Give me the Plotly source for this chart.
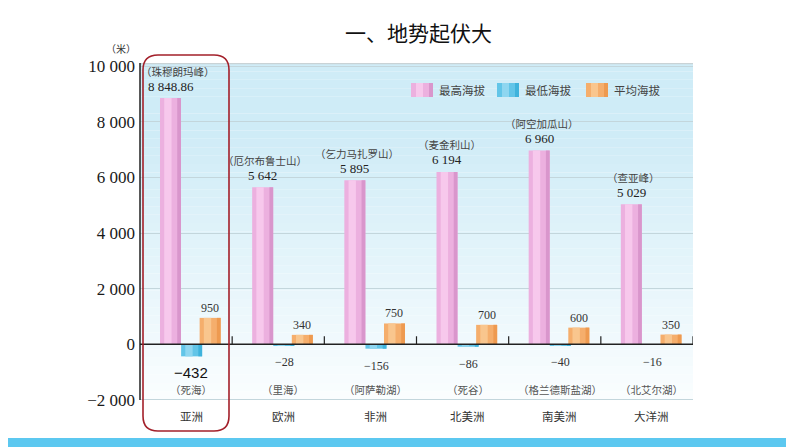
import plotly.graph_objects as go

# ---------------- data ----------------
continents = ["亚洲", "欧洲", "非洲", "北美洲", "南美洲", "大洋洲"]
highest = [8848.86, 5642, 5895, 6194, 6960, 5029]
lowest = [-432, -28, -156, -86, -40, -16]
average = [950, 340, 750, 700, 600, 350]
peak_names = ["珠穆朗玛峰", "厄尔布鲁士山", "乞力马扎罗山", "麦金利山", "阿空加瓜山", "查亚峰"]
low_names = ["死海", "里海", "阿萨勒湖", "死谷", "格兰德斯盐湖", "北艾尔湖"]
y_ticks = [-2000, 0, 2000, 4000, 6000, 8000, 10000]
y_tick_text = ["−2 000", "0", "2 000", "4 000", "6 000", "8 000", "10 000"]
series_names = ["最高海拔", "最低海拔", "平均海拔"]

# ---------------- geometry helpers (styling only) ----------------
OX, OY = 8, 8            # default page body margin
W, H = 794 - OX, 447 - OY
L, T = 140 - OX, 63 - OY
R = W - (693 - OX)
B = H - (431 - OY)
PW, PH = W - L - R, H - T - B
Y_TOP, Y_BOT = 10108, -3114
BAR_W = 0.228
OFF = [-0.283, -0.054, 0.147]

PINK, BLUE, ORANGE = "#ecb0df", "#62c5e8", "#f5ae6c"
PINK_HI, BLUE_HI, ORANGE_HI = "#f7c8ec", "#8ed6f0", "#f9c68e"
PINK_LO, BLUE_LO, ORANGE_LO = "#d996cc", "#3fb3dc", "#ee9a50"
SERIF = "Liberation Serif, Noto Sans CJK SC"
CJK = "Noto Sans CJK SC"
TXT = "#333333"


def px_x(p):
    return (p - OX - L) / PW


def px_y(p):
    return (H - B - (p - OY)) / PH


def fmt(v):
    neg = v < 0
    v = abs(v)
    if float(v).is_integer():
        s = f"{int(v):,}".replace(",", " ")
    else:
        ip, dp = f"{v:.2f}".split(".")
        s = f"{int(ip):,}".replace(",", " ") + "." + dp
    return ("−" if neg else "") + s


fig = go.Figure()

for vals, name, col, hi, lo, off in [
    (highest, series_names[0], PINK, PINK_HI, PINK_LO, OFF[0]),
    (lowest, series_names[1], BLUE, BLUE_HI, BLUE_LO, OFF[1]),
    (average, series_names[2], ORANGE, ORANGE_HI, ORANGE_LO, OFF[2]),
]:
    fig.add_trace(go.Bar(x=continents, y=vals, name=name, width=BAR_W, offset=off,
                         marker=dict(color=col, line=dict(width=0)), showlegend=False))
    # shading stripes to suggest the cylindrical look
    fig.add_trace(go.Bar(x=continents, y=vals, name=name, width=BAR_W * 0.35,
                         offset=off + BAR_W * 0.2,
                         marker=dict(color=hi, line=dict(width=0)), showlegend=False,
                         hoverinfo="skip"))
    fig.add_trace(go.Bar(x=continents, y=vals, name=name, width=BAR_W * 0.18,
                         offset=off + BAR_W * 0.82,
                         marker=dict(color=lo, line=dict(width=0)), showlegend=False,
                         hoverinfo="skip"))

shapes = []
# background gradient of the panel
n = 40
top_c = (0xcf, 0xec, 0xf7)
bot_c = (0xfb, 0xfe, 0xff)
for i in range(n):
    y0 = -2000 + (Y_TOP + 2000) * i / n
    y1 = -2000 + (Y_TOP + 2000) * (i + 1) / n
    t = (i + 0.5) / n
    c = tuple(int(bot_c[k] + (top_c[k] - bot_c[k]) * min(1, t * 1.25)) for k in range(3))
    shapes.append(dict(type="rect", xref="paper", yref="y", x0=0, x1=1, y0=y0, y1=y1,
                       fillcolor="rgb(%d,%d,%d)" % c, line=dict(width=0), layer="below"))
# top border
shapes.append(dict(type="line", xref="paper", yref="y", x0=0, x1=1, y0=Y_TOP - 20, y1=Y_TOP - 20,
                   line=dict(color="#c9d3d6", width=1.5)))
# left axis line
shapes.append(dict(type="line", xref="paper", yref="y", x0=0, x1=0, y0=-2000, y1=Y_TOP,
                   line=dict(color="#222222", width=1.5)))
# zero line and ticks
shapes.append(dict(type="line", xref="paper", yref="y", x0=0, x1=1, y0=0, y1=0,
                   line=dict(color="#222222", width=1.5)))
for i in range(len(continents)):
    shapes.append(dict(type="line", xref="x", yref="y", x0=i + 0.5, x1=i + 0.5, y0=0, y1=290,
                       line=dict(color="#222222", width=1.2)))
# bottom blue strip
shapes.append(dict(type="rect", xref="paper", yref="paper", x0=px_x(0), x1=px_x(800),
                   y0=px_y(450), y1=px_y(438), fillcolor="#5cc8f0", line=dict(width=0)))
# red rounded rectangle around Asia
x0, x1, y0, y1, r = 143, 229, 55, 431, 15
rx, ry = r / PW, r / PH
X0, X1, Y0, Y1 = px_x(x0), px_x(x1), px_y(y1), px_y(y0)
path = (f"M {X0+rx},{Y1} L {X1-rx},{Y1} Q {X1},{Y1} {X1},{Y1-ry} "
        f"L {X1},{Y0+ry} Q {X1},{Y0} {X1-rx},{Y0} L {X0+rx},{Y0} "
        f"Q {X0},{Y0} {X0},{Y0+ry} L {X0},{Y1-ry} Q {X0},{Y1} {X0+rx},{Y1} Z")
shapes.append(dict(type="path", xref="paper", yref="paper", path=path,
                   line=dict(color="#a3202a", width=1.6)))
# legend swatches
for sx, col, hi, lo in [(411, PINK, PINK_HI, PINK_LO), (497, BLUE, BLUE_HI, BLUE_LO),
                        (586, ORANGE, ORANGE_HI, ORANGE_LO)]:
    shapes.append(dict(type="rect", xref="paper", yref="paper", x0=px_x(sx), x1=px_x(sx + 22),
                       y0=px_y(97), y1=px_y(83), fillcolor=col, line=dict(width=0)))
    shapes.append(dict(type="rect", xref="paper", yref="paper", x0=px_x(sx + 5), x1=px_x(sx + 12),
                       y0=px_y(97), y1=px_y(83), fillcolor=hi, line=dict(width=0)))
    shapes.append(dict(type="rect", xref="paper", yref="paper", x0=px_x(sx + 18), x1=px_x(sx + 22),
                       y0=px_y(97), y1=px_y(83), fillcolor=lo, line=dict(width=0)))

ann = []
# title and unit
ann.append(dict(text="一、地势起伏大", xref="paper", yref="paper", x=px_x(418), y=px_y(32),
                showarrow=False, font=dict(family=CJK, size=21, color="#111111"),
                xanchor="center", yanchor="middle"))
ann.append(dict(text="（米）", xref="paper", yref="paper", x=px_x(121), y=px_y(48),
                showarrow=False, font=dict(family=CJK, size=10, color=TXT),
                xanchor="center", yanchor="middle"))
# legend labels
for sx, name in zip([437, 523, 612], series_names):
    ann.append(dict(text=name, xref="paper", yref="paper", x=px_x(sx), y=px_y(90),
                    showarrow=False, font=dict(family=CJK, size=11.5, color="#444444"),
                    xanchor="left", yanchor="middle"))

for i, c in enumerate(continents):
    # highest
    ann.append(dict(text=fmt(highest[i]), x=c, y=highest[i], xshift=-15.5, yshift=12,
                    showarrow=False, font=dict(family=SERIF, size=13, color="#222222"),
                    xanchor="center", yanchor="middle"))
    ann.append(dict(text="（" + peak_names[i] + "）", x=c, y=highest[i],
                    xshift=-13 if i else -8, yshift=27,
                    showarrow=False, font=dict(family=CJK, size=10.5, color="#444444"),
                    xanchor="center", yanchor="middle"))
    # lowest
    if i == 0:
        ann.append(dict(text=fmt(lowest[i]), x=c, y=lowest[i], xshift=5, yshift=-16,
                        showarrow=False, font=dict(family="Liberation Sans", size=15, color="#111111"),
                        xanchor="center", yanchor="middle"))
    else:
        ann.append(dict(text=fmt(lowest[i]), x=c, y=lowest[i], xshift=6, yshift=-17,
                        showarrow=False, font=dict(family=SERIF, size=12, color="#333333"),
                        xanchor="center", yanchor="middle"))
    ann.append(dict(text="（" + low_names[i] + "）", x=c, y=0, xshift=5, yshift=-45,
                    showarrow=False, font=dict(family=CJK, size=10.5, color="#555555"),
                    xanchor="center", yanchor="middle"))
    # average
    ann.append(dict(text=fmt(average[i]), x=c, y=average[i], xshift=24, yshift=10,
                    showarrow=False, font=dict(family=SERIF, size=12, color="#333333"),
                    xanchor="center", yanchor="middle"))
    # continent
    ann.append(dict(text=c, x=c, y=0, xshift=5, yshift=-72,
                    showarrow=False, font=dict(family=CJK, size=11.5, color="#333333"),
                    xanchor="center", yanchor="middle"))

fig.update_layout(
    width=W, height=H,
    margin=dict(l=L, r=R, t=T, b=B, pad=0),
    paper_bgcolor="white", plot_bgcolor="rgba(0,0,0,0)",
    barmode="overlay", showlegend=False,
    shapes=shapes, annotations=ann,
    xaxis=dict(range=[-0.5, len(continents) - 0.5], showticklabels=False, showgrid=False,
               zeroline=False, showline=False, ticks="", fixedrange=True),
    yaxis=dict(range=[Y_BOT, Y_TOP], tickvals=y_ticks, ticktext=y_tick_text,
               showgrid=True, gridcolor="#c3d6dc", gridwidth=1, zeroline=False,
               showline=False, ticks="", ticklabelstandoff=4,
               tickfont=dict(family="Liberation Serif", size=17, color="#1a1a1a")),
)

fig.write_html("out.html")
